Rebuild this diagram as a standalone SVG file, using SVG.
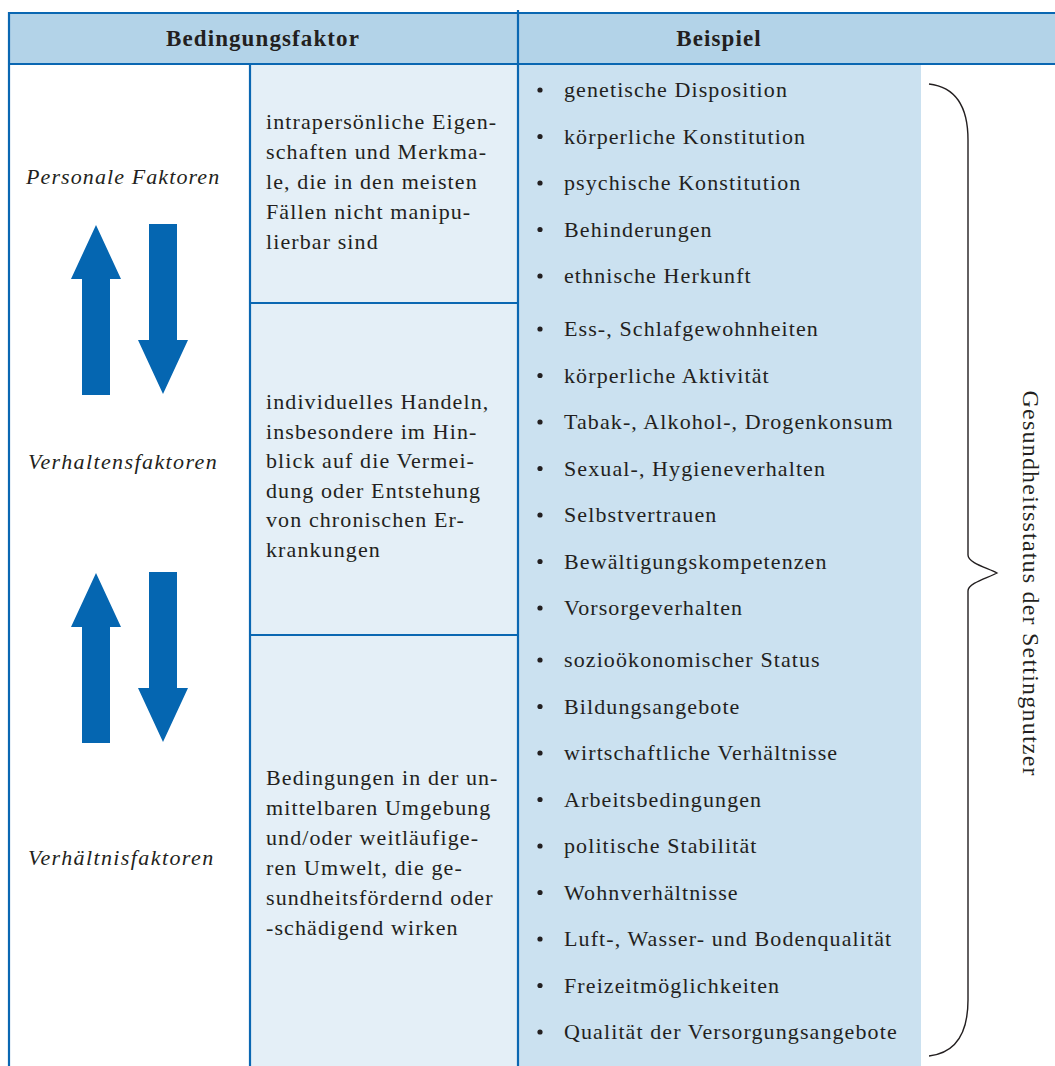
<svg xmlns="http://www.w3.org/2000/svg" width="1055" height="1066" viewBox="0 0 1055 1066">
<defs>
<style>
text{font-family:"Liberation Serif","Times New Roman",serif;fill:#231F20;font-size:22px;letter-spacing:1.1px}
.h{font-weight:bold;text-anchor:middle;font-size:23px}
.it{font-style:italic}
.ln{stroke:#0A67B2;stroke-width:2.2;fill:none}
.arr{fill:#0566B1}
.bul{fill:#231F20}
</style>
</defs>
<rect width="1055" height="1066" fill="#ffffff"/>
<g id="backgrounds">
<rect x="9" y="13" width="1046" height="51" fill="#B3D3E8"/>
<rect x="250" y="64" width="268" height="1002" fill="#E4EFF7"/>
<rect x="518" y="64" width="403" height="1002" fill="#CBE1F0"/>
</g>
<g id="grid">
<line class="ln" x1="9" y1="13" x2="1055" y2="13"/>
<line class="ln" x1="9" y1="12" x2="9" y2="1066"/>
<line class="ln" x1="9" y1="64" x2="1055" y2="64"/>
<line class="ln" x1="518" y1="10" x2="518" y2="1066"/>
<line class="ln" x1="250" y1="63" x2="250" y2="1066"/>
<line class="ln" x1="250" y1="303" x2="518" y2="303"/>
<line class="ln" x1="250" y1="635" x2="518" y2="635"/>
</g>
<g id="header">
<text class="h" x="263" y="46">Bedingungsfaktor</text>
<text class="h" x="719" y="46">Beispiel</text>
</g>
<g id="factor-labels">
<text class="it" x="26" y="184">Personale Faktoren</text>
<text class="it" x="28" y="469" style="letter-spacing:1.4px">Verhaltensfaktoren</text>
<text class="it" x="28" y="865" style="letter-spacing:1.4px">Verhältnisfaktoren</text>
</g>
<g id="arrows">
<g id="arrows-1">
<polygon class="arr" points="96,225 121,279 110,279 110,395 82,395 82,279 71,279"/>
<polygon class="arr" points="149,224 177,224 177,340 188,340 163,394 138,340 149,340"/>
</g>
<g id="arrows-2" transform="translate(0,348)">
<polygon class="arr" points="96,225 121,279 110,279 110,395 82,395 82,279 71,279"/>
<polygon class="arr" points="149,224 177,224 177,340 188,340 163,394 138,340 149,340"/>
</g>
</g>
<g id="desc-personal">
<text x="266" y="129">intrapersönliche Eigen-</text>
<text x="266" y="159">schaften und Merkma-</text>
<text x="266" y="189">le, die in den meisten</text>
<text x="266" y="219">Fällen nicht manipu-</text>
<text x="266" y="249">lierbar sind</text>
</g>
<g id="desc-verhalten">
<text x="266" y="409">individuelles Handeln,</text>
<text x="266" y="438.5">insbesondere im Hin-</text>
<text x="266" y="468">blick auf die Vermei-</text>
<text x="266" y="497.5">dung oder Entstehung</text>
<text x="266" y="527">von chronischen Er-</text>
<text x="266" y="556.5">krankungen</text>
</g>
<g id="desc-verhaeltnis">
<text x="266" y="785">Bedingungen in der un-</text>
<text x="266" y="815">mittelbaren Umgebung</text>
<text x="266" y="845">und/oder weitläufige-</text>
<text x="266" y="875">ren Umwelt, die ge-</text>
<text x="266" y="905">sundheitsfördernd oder</text>
<text x="266" y="935">-schädigend wirken</text>
</g>
<g id="examples-personal">
<circle class="bul" cx="540" cy="90" r="2.6"/><text x="564" y="97">genetische Disposition</text>
<circle class="bul" cx="540" cy="136.5" r="2.6"/><text x="564" y="143.5">körperliche Konstitution</text>
<circle class="bul" cx="540" cy="183" r="2.6"/><text x="564" y="190">psychische Konstitution</text>
<circle class="bul" cx="540" cy="229.5" r="2.6"/><text x="564" y="236.5">Behinderungen</text>
<circle class="bul" cx="540" cy="276" r="2.6"/><text x="564" y="283">ethnische Herkunft</text>
</g>
<g id="examples-verhalten">
<circle class="bul" cx="540" cy="329" r="2.6"/><text x="564" y="336">Ess-, Schlafgewohnheiten</text>
<circle class="bul" cx="540" cy="375.5" r="2.6"/><text x="564" y="382.5">körperliche Aktivität</text>
<circle class="bul" cx="540" cy="422" r="2.6"/><text x="564" y="429">Tabak-, Alkohol-, Drogenkonsum</text>
<circle class="bul" cx="540" cy="468.5" r="2.6"/><text x="564" y="475.5">Sexual-, Hygieneverhalten</text>
<circle class="bul" cx="540" cy="515" r="2.6"/><text x="564" y="522">Selbstvertrauen</text>
<circle class="bul" cx="540" cy="561.5" r="2.6"/><text x="564" y="568.5">Bewältigungskompetenzen</text>
<circle class="bul" cx="540" cy="608" r="2.6"/><text x="564" y="615">Vorsorgeverhalten</text>
</g>
<g id="examples-verhaeltnis">
<circle class="bul" cx="540" cy="660" r="2.6"/><text x="564" y="667">sozioökonomischer Status</text>
<circle class="bul" cx="540" cy="706.5" r="2.6"/><text x="564" y="713.5">Bildungsangebote</text>
<circle class="bul" cx="540" cy="753" r="2.6"/><text x="564" y="760">wirtschaftliche Verhältnisse</text>
<circle class="bul" cx="540" cy="799.5" r="2.6"/><text x="564" y="806.5">Arbeitsbedingungen</text>
<circle class="bul" cx="540" cy="846" r="2.6"/><text x="564" y="853">politische Stabilität</text>
<circle class="bul" cx="540" cy="892.5" r="2.6"/><text x="564" y="899.5">Wohnverhältnisse</text>
<circle class="bul" cx="540" cy="939" r="2.6"/><text x="564" y="946">Luft-, Wasser- und Bodenqualität</text>
<circle class="bul" cx="540" cy="985.5" r="2.6"/><text x="564" y="992.5">Freizeitmöglichkeiten</text>
<circle class="bul" cx="540" cy="1032" r="2.6"/><text x="564" y="1039">Qualität der Versorgungsangebote</text>
</g>
<g id="brace">
<path d="M929,84 C955,87 968,105 968,140 L968,555 C968,563 988,568 997,573 C988,578 968,583 968,591 L968,1000 C968,1035 955,1053 929,1056" fill="none" stroke="#231F20" stroke-width="1.4"/>
</g>
<g id="side-label">
<text transform="translate(1023,583) rotate(90)" text-anchor="middle" textLength="385" lengthAdjust="spacing" style="letter-spacing:0;font-size:24px">Gesundheitsstatus der Settingnutzer</text>
</g>
</svg>
